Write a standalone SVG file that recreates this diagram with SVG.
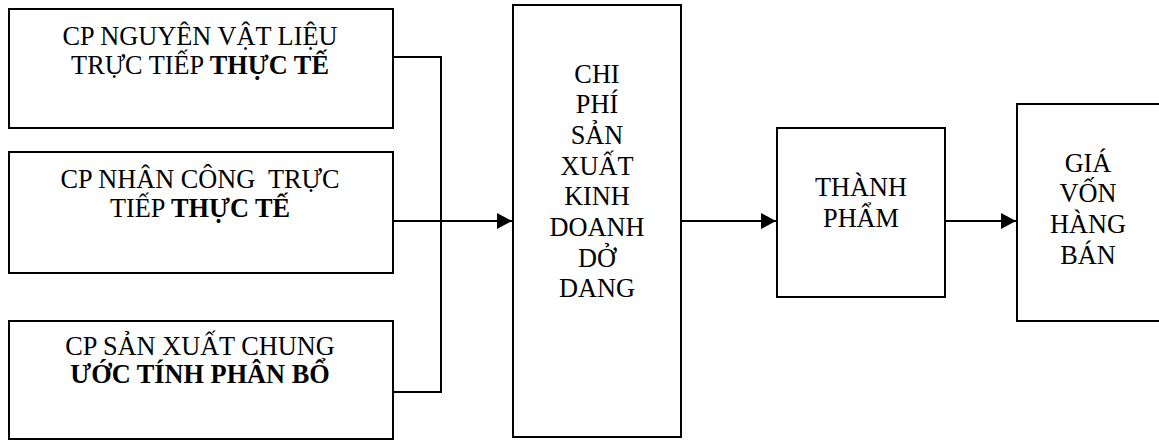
<svg xmlns="http://www.w3.org/2000/svg" width="1159" height="441" viewBox="0 0 1159 441">
  <style>
    .box { fill: #fff; stroke: #000; stroke-width: 2; }
    .wire { fill: none; stroke: #000; stroke-width: 2; }
    .lbl { font-size: 26.3px; fill: #000; text-anchor: middle; }
    .b { font-weight: bold; }
  </style>
  <defs>
    <marker id="arrow" markerWidth="15" markerHeight="16" refX="15" refY="8" orient="auto" markerUnits="userSpaceOnUse">
      <path d="M0,0 L15,8 L0,16 Z" fill="#000"/>
    </marker>
  </defs>

  <rect width="1159" height="441" fill="#fff"/>

  <!-- connectors -->
  <g id="connectors">
    <polyline class="wire" points="393,57 441,57 441,392 393,392"/>
    <line class="wire" x1="393" y1="221" x2="512" y2="221" marker-end="url(#arrow)"/>
    <line class="wire" x1="681" y1="221" x2="776" y2="221" marker-end="url(#arrow)"/>
    <line class="wire" x1="945" y1="221" x2="1016" y2="221" marker-end="url(#arrow)"/>
  </g>

  <g class="lbl" font-family="'Liberation Serif', Tinos, 'Times New Roman', serif">
    <g id="cp-nvl">
      <rect class="box" x="9" y="9" width="384" height="119"/>
      <text x="200" y="45">CP NGUYÊN VẬT LIỆU</text>
      <text x="200" y="74">TRỰC TIẾP <tspan class="b">THỰC TẾ</tspan></text>
    </g>

    <g id="cp-nc">
      <rect class="box" x="9" y="152" width="384" height="121"/>
      <text x="200" y="188" xml:space="preserve">CP NHÂN CÔNG  TRỰC</text>
      <text x="200" y="217">TIẾP <tspan class="b">THỰC TẾ</tspan></text>
    </g>

    <g id="cp-sxc">
      <rect class="box" x="9" y="321" width="384" height="118"/>
      <text x="200" y="355">CP SẢN XUẤT CHUNG</text>
      <text x="200" y="383" class="b">ƯỚC TÍNH PHÂN BỔ</text>
    </g>

    <g id="cpsxkd-dd">
      <rect class="box" x="513" y="5" width="168" height="432"/>
      <text x="597" y="83">CHI</text>
      <text x="597" y="113">PHÍ</text>
      <text x="597" y="144">SẢN</text>
      <text x="597" y="175">XUẤT</text>
      <text x="597" y="205">KINH</text>
      <text x="597" y="236">DOANH</text>
      <text x="597" y="267">DỞ</text>
      <text x="597" y="297">DANG</text>
    </g>

    <g id="thanh-pham">
      <rect class="box" x="777" y="128" width="168" height="169"/>
      <text x="861" y="196">THÀNH</text>
      <text x="861" y="227">PHẨM</text>
    </g>

    <g id="gia-von">
      <rect class="box" x="1017" y="104" width="160" height="217"/>
      <text x="1088" y="172">GIÁ</text>
      <text x="1088" y="202">VỐN</text>
      <text x="1088" y="233">HÀNG</text>
      <text x="1088" y="264">BÁN</text>
    </g>
  </g>
</svg>
